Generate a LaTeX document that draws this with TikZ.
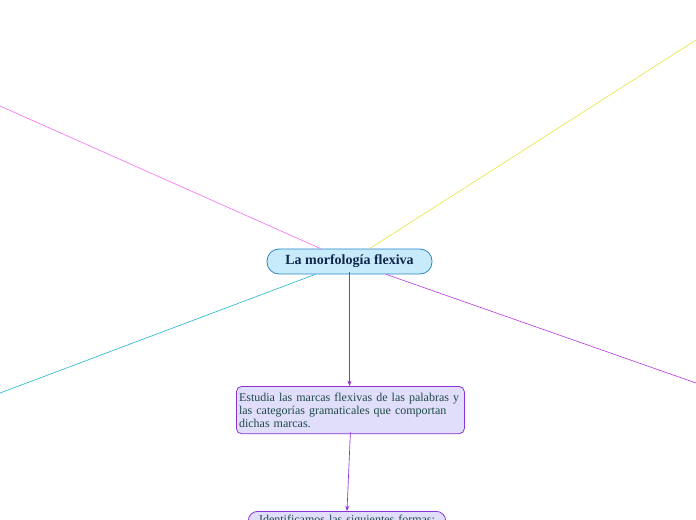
\documentclass[tikz,border=0pt]{standalone}
\usepackage{fontspec}
\setmainfont{Liberation Serif}
\usetikzlibrary{arrows.meta,positioning}

\definecolor{rootfill}{HTML}{C8EBFB}
\definecolor{rootline}{HTML}{2B86C9}
\definecolor{roottext}{HTML}{10264A}
\definecolor{subfill}{HTML}{E1DEFC}
\definecolor{subline}{HTML}{8A34D6}
\definecolor{subtext}{HTML}{1E4A45}
\definecolor{branchpink}{HTML}{F56BF5}
\definecolor{branchyellow}{HTML}{E8E33A}
\definecolor{branchcyan}{HTML}{1CB5CC}
\definecolor{branchpurple}{HTML}{B833DD}

\tikzset{
  rootbox/.style={draw=rootline,fill=rootfill,rounded corners=9pt,line width=0.6pt,
    minimum width=123.75pt,minimum height=18.75pt,text=roottext,font=\bfseries\fontsize{10.5}{12}\selectfont},
  subbox/.style={draw=subline,fill=subfill,rounded corners=4pt,line width=0.6pt,
    text width=167pt,inner xsep=2pt,inner ysep=4.8pt,align=left,text=subtext,
    font=\fontsize{9}{9.75}\selectfont},
  branch/.style={line width=0.45pt}
}

\begin{document}
\begin{tikzpicture}[x=0.75pt,y=-0.75pt,>={Stealth[length=4pt,width=3pt]}]
  \useasboundingbox (0,0) rectangle (696,520);
  \clip (0,0) rectangle (696,520);
  \node[rootbox] (root) at (349.5,261.5) {La morfología flexiva};
  \node[subbox,anchor=north west] (estudia) at (236,386)
    {Estudia las marcas flexivas de las palabras y\\ las categorías gramaticales que comportan\\ dichas marcas.};
  \node[subbox,anchor=north,text width=144pt,inner ysep=2.6pt,rounded corners=7pt,align=center] (formas) at (347,511)
    {Identificamos las siguientes formas:\\ \strut};
  % free ends of the branches
  \coordinate (pink) at (0,106);
  \coordinate (yellow) at (696,40);
  \coordinate (cyan) at (0,393);
  \coordinate (purple) at (696,383);
  \draw[branch,branchpink] (root) -- (pink);
  \draw[branch,branchyellow] (root) -- (yellow);
  \draw[branch,branchcyan] (root) -- (cyan);
  \draw[branch,branchpurple] (root) -- (purple);
  \draw[->,subline,line width=0.5pt] (root.south) ++(0,-2) coordinate (r1) (r1) -- (estudia.north -| r1);
  \draw[->,subline,line width=0.5pt] (estudia.south) ++(0,-2) coordinate (e1) (e1) -- (formas.north);
\end{tikzpicture}
\end{document}
